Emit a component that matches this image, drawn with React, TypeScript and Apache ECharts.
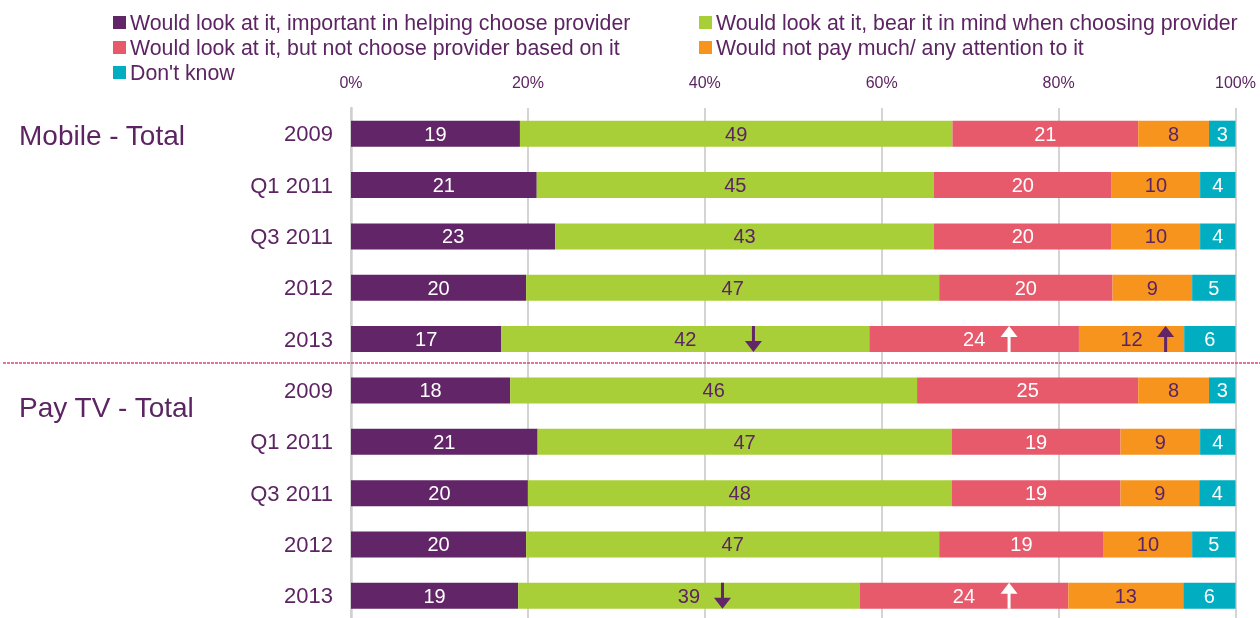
import React, { useEffect, useRef } from "react";
import * as echarts from "echarts";

const groups = ["Mobile - Total", "Pay TV - Total"];
const periods = ["2009", "Q1 2011", "Q3 2011", "2012", "2013"];
const categories = [
  "Mobile 2009", "Mobile Q1 2011", "Mobile Q3 2011", "Mobile 2012", "Mobile 2013",
  "PayTV 2009", "PayTV Q1 2011", "PayTV Q3 2011", "PayTV 2012", "PayTV 2013",
];
const seriesNames = [
  "Would look at it, important in helping choose provider",
  "Would look at it, bear it in mind when choosing provider",
  "Would look at it, but not choose provider based on it",
  "Would not pay much/ any attention to it",
  "Don't know",
];
const important = [19.1, 21.0, 23.1, 19.8, 17.0, 18.0, 21.1, 20.0, 19.8, 18.9];
const bearInMind = [48.9, 44.9, 42.8, 46.7, 41.6, 46.0, 46.8, 47.9, 46.7, 38.6];
const notChoose = [21.0, 20.1, 20.1, 19.6, 23.7, 25.0, 19.1, 19.1, 18.6, 23.6];
const noAttention = [8.0, 10.0, 10.0, 9.0, 11.9, 8.0, 9.0, 8.9, 10.0, 13.0];
const dontKnow = [3.0, 4.0, 4.0, 4.9, 5.8, 3.0, 4.0, 4.1, 4.9, 5.9];
const xTicks = [0, 20, 40, 60, 80, 100];

// significance arrows: [x position (%), category index]
const downArrows = [[45.5, 4], [42.0, 9]];
const upArrowsWhite = [[74.4, 4], [74.4, 9]];
const upArrowsPurple = [[92.1, 4]];

const PURPLE = "#622567";
const TEXT = "#5C2462";
const colors = [PURPLE, "#A8CF38", "#E65A6B", "#F7941E", "#00ADC1"];
const labelColors = ["#FFFFFF", TEXT, "#FFFFFF", TEXT, "#FFFFFF"];
const FONT = "'Liberation Sans', Arial, sans-serif";

const DOWN = "path://M7,0 L10,0 L10,15 L17,15 L8.5,26 L0,15 L7,15 Z";
const UP = "path://M8.5,0 L17,11 L10,11 L10,26 L7,26 L7,11 L0,11 Z";

export default function App() {
  const ref = useRef<HTMLDivElement>(null);
  useEffect(() => {
    if (!ref.current) return;
    const chart = echarts.init(ref.current, null, { renderer: "svg" });
    const values = [important, bearInMind, notChoose, noAttention, dontKnow];
    const bars = values.map((arr, i) => ({
      name: seriesNames[i],
      type: "bar",
      stack: "total",
      barWidth: 26,
      itemStyle: { color: colors[i] },
      label: {
        show: true,
        position: "inside",
        fontSize: 20,
        fontFamily: FONT,
        color: labelColors[i],
        formatter: (p: any) => String(Math.round(p.value)),
      },
      data: arr,
    }));
    const arrowSeries = (data: number[][], symbol: string, color: string) => ({
      type: "scatter",
      symbol,
      symbolSize: [17, 26],
      itemStyle: { color, opacity: 1 },
      z: 10,
      silent: true,
      data,
    });
    const legendCommon = {
      orient: "vertical",
      icon: "rect",
      itemWidth: 13,
      itemHeight: 13,
      itemGap: 4,
      padding: 0,
      selectedMode: false,
      textStyle: { fontSize: 21.3, color: TEXT, fontFamily: FONT, padding: [0, 0, 0, -1] },
    };
    chart.setOption({
      animation: false,
      textStyle: { fontFamily: FONT },
      legend: [
        { ...legendCommon, left: 113, top: 12, data: [seriesNames[0], seriesNames[2], seriesNames[4]] },
        { ...legendCommon, left: 699, top: 12, data: [seriesNames[1], seriesNames[3]] },
      ],
      grid: { left: 351, top: 108, width: 884.5, height: 513.5 },
      xAxis: {
        type: "value",
        position: "top",
        min: 0,
        max: 100,
        interval: 20,
        axisLine: { show: false },
        axisTick: { show: false },
        axisLabel: {
          formatter: (v: number) => (xTicks.includes(v) ? v + "%" : ""),
          fontSize: 16,
          color: TEXT,
          margin: 18,
          fontFamily: FONT,
        },
        splitLine: { lineStyle: { color: "#D4D4D4", width: 2 } },
      },
      yAxis: {
        type: "category",
        inverse: true,
        data: categories,
        axisLine: { lineStyle: { color: "#D0D0D0", width: 2.5 } },
        axisTick: { length: 7, lineStyle: { color: "#D0D0D0", width: 2 } },
        axisLabel: {
          formatter: (_v: string, i: number) => periods[i % periods.length],
          fontSize: 22,
          color: TEXT,
          margin: 18,
          fontFamily: FONT,
        },
      },
      series: [
        ...bars,
        arrowSeries(downArrows, DOWN, PURPLE),
        arrowSeries(upArrowsWhite, UP, "#FFFFFF"),
        arrowSeries(upArrowsPurple, UP, PURPLE),
      ],
      graphic: [
        {
          type: "text",
          left: 19,
          top: 121,
          style: { text: groups[0], fontSize: 28, fill: TEXT, fontFamily: FONT },
        },
        {
          type: "text",
          left: 19,
          top: 393,
          style: { text: groups[1], fontSize: 28, fill: TEXT, fontFamily: FONT },
        },
        {
          type: "line",
          shape: { x1: 3, y1: 363, x2: 1260, y2: 363 },
          style: { stroke: "#E0457A", lineWidth: 1.5, lineDash: [3, 1] },
          z: 20,
        },
      ],
    });
    return () => chart.dispose();
  }, []);
  return (
    <div
      style={{
        position: "fixed",
        left: 0,
        top: 0,
        width: 1260,
        height: 618,
        overflow: "hidden",
      }}
    >
      <div ref={ref} style={{ width: 1260, height: 626 }} />
    </div>
  );
}
